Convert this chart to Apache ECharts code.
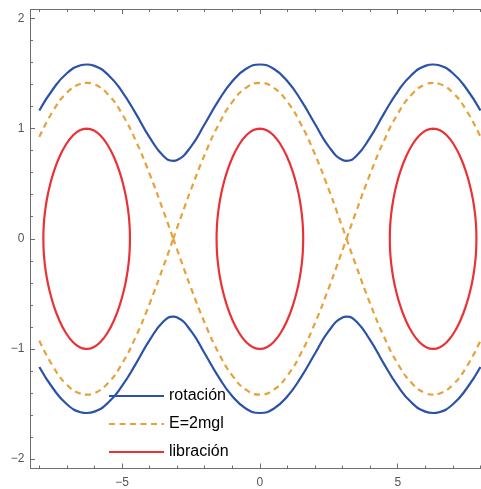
<!DOCTYPE html>
<html>
<head>
<meta charset="utf-8">
<script src="https://cdn.jsdelivr.net/npm/echarts@6/dist/echarts.min.js"></script>
<style>
html,body{margin:0;padding:0;background:#fff;}
#main{width:481px;height:489px;}
</style>
</head>
<body>
<div id="main"></div>
<script>
// rotacion curve (upper branch)
var rotX = [-8,-7.5,-7,-6.5,-6.2832,-6,-5.5,-5,-4.5,-4,-3.5,-3.1416,-3,-2.5,-2,-1.5,-1,-0.5,0,0.5,1,1.5,2,2.5,3,3.1416,3.5,4,4.5,5,5.5,6,6.2832,6.5,7,7.5,8];
var rotTop = [1.1638,1.3589,1.5013,1.5737,1.5811,1.5685,1.4862,1.3355,1.1354,0.9200,0.7507,0.7071,0.7141,0.8360,1.0411,1.2533,1.4284,1.5419,1.5811,1.5419,1.4284,1.2533,1.0411,0.8360,0.7141,0.7071,0.7507,0.9200,1.1354,1.3355,1.4862,1.5685,1.5811,1.5737,1.5013,1.3589,1.1638];

// separatrix E=2mgl, three arcs between the crossings
var sepLeftX = [-8,-7.5,-7,-6.5,-6.2832,-6,-5.5,-5,-4.5,-4,-3.5,-3.1416];
var sepLeftTop = [0.9244,1.1605,1.3243,1.4059,1.4142,1.4001,1.3072,1.1330,0.8884,0.5885,0.2521,0];
var sepMidX = [-3.1416,-3,-2.75,-2.5,-2,-1.5,-1,-0.5,0,0.5,1,1.5,2,2.5,2.75,3,3.1416];
var sepMidTop = [0,0.1000,0.2751,0.4459,0.7641,1.0348,1.2411,1.3703,1.4142,1.3703,1.2411,1.0348,0.7641,0.4459,0.2751,0.1000,0];
var sepRightX = [3.1416,3.5,4,4.5,5,5.5,6,6.2832,6.5,7,7.5,8];
var sepRightTop = [0,0.2521,0.5885,0.8884,1.1330,1.3072,1.4001,1.4142,1.4059,1.3243,1.1605,0.9244];

// libracion loops: quarter of one loop (offset from centre, height)
var libDx = [0,0.25,0.5,0.75,1.0,1.2,1.35,1.45,1.52,1.555,1.5708];
var libP = [1,0.9843,0.9368,0.8554,0.7351,0.6020,0.4680,0.3471,0.2253,0.1257,0];
var libCenters = [-6.2832,0,6.2832];

var xMajor = [-5,0,5];
var xMinor = [-8,-7,-6,-4,-3,-2,-1,1,2,3,4,6,7,8];
var yMajor = [-2,-1,0,1,2];
var yMinor = [-1.8,-1.6,-1.4,-1.2,-0.8,-0.6,-0.4,-0.2,0.2,0.4,0.6,0.8,1.2,1.4,1.6,1.8];

var blue = '#2b52a6', orange = '#e6a23a', red = '#ea3236';
var frameColor = '#6e6e6e';

function pairs(xs, ys, sign){
	var out = [];
	for(var i = 0; i < xs.length; i++){
		out.push([xs[i], sign * ys[i]]);
	}
	return out;
}

function loop(c){
	var pts = [];
	var n = libDx.length;
	for(var i = 0; i < n; i++) pts.push([c + libDx[i], libP[i]]);
	for(var i = n - 2; i >= 0; i--) pts.push([c + libDx[i], -libP[i]]);
	for(var i = 1; i < n; i++) pts.push([c - libDx[i], -libP[i]]);
	for(var i = n - 2; i >= 0; i--) pts.push([c - libDx[i], libP[i]]);
	return pts;
}

function fmt(v){
	return v < 0 ? '\u2212' + Math.abs(v) : '' + v;
}

function line(name, data, color, dashed){
	return {
		name: name,
		type: 'line',
		data: data,
		smooth: true,
		symbol: 'none',
		lineStyle: {color: color, width: 2.2, type: dashed ? [6, 4.5] : 'solid'},
		itemStyle: {color: color},
		xAxisIndex: 0,
		yAxisIndex: 0,
		z: 2
	};
}

var series = [];
series.push(line('rotación', pairs(rotX, rotTop, 1), blue));
series.push(line('rotación', pairs(rotX, rotTop, -1), blue));
var sepArcs = [[sepLeftX, sepLeftTop], [sepMidX, sepMidTop], [sepRightX, sepRightTop]];
for(var k = 0; k < sepArcs.length; k++){
	series.push(line('E=2mgl', pairs(sepArcs[k][0], sepArcs[k][1], 1), orange, true));
	series.push(line('E=2mgl', pairs(sepArcs[k][0], sepArcs[k][1], -1), orange, true));
}
for(var k = 0; k < libCenters.length; k++){
	series.push(line('libración', loop(libCenters[k]), red));
}

// the frame runs past the right edge of the picture, so the visible range stops near 8
function xAx(pos, ticks, len, labels){
	return {
		type: 'value', position: pos, min: -8.32, max: 8.02,
		axisLine: {show: true, onZero: false, lineStyle: {color: frameColor, width: 1}},
		axisTick: {show: true, inside: true, length: len, customValues: ticks, lineStyle: {color: frameColor}},
		axisLabel: labels ? {show: true, customValues: ticks, formatter: fmt, color: '#555', fontSize: 12, fontFamily: 'Liberation Sans', margin: 9} : {show: false},
		splitLine: {show: false}
	};
}
function yAx(pos, ticks, len, labels){
	return {
		type: 'value', position: pos, min: -2.08, max: 2.08,
		axisLine: {show: true, onZero: false, lineStyle: {color: frameColor, width: 1}},
		axisTick: {show: true, inside: true, length: len, customValues: ticks, lineStyle: {color: frameColor}},
		axisLabel: labels ? {show: true, customValues: ticks, formatter: fmt, color: '#555', fontSize: 12, fontFamily: 'Liberation Sans', margin: 6} : {show: false},
		splitLine: {show: false}
	};
}

var myChart = echarts.init(document.getElementById('main'));
var option = {
	animation: false,
	backgroundColor: '#fff',
	grid: {left: 30.5, right: 0, top: 9.5, bottom: 19, containLabel: false},
	xAxis: [
		xAx('bottom', xMajor, 4.5, true),
		xAx('bottom', xMinor, 2.5, false),
		xAx('top', xMajor, 4.5, false),
		xAx('top', xMinor, 2.5, false)
	],
	yAxis: [
		yAx('left', yMajor, 4.5, true),
		yAx('left', yMinor, 2.5, false)
	],
	legend: {
		data: ['rotación', 'E=2mgl', 'libración'],
		orient: 'vertical',
		left: 108,
		top: 388,
		padding: 0,
		itemWidth: 55,
		itemHeight: 16,
		itemGap: 12,
		itemStyle: {opacity: 0},
		textStyle: {fontSize: 16, color: '#000', fontFamily: 'Liberation Sans'},
		z: 5
	},
	series: series
};
myChart.setOption(option);
</script>
</body>
</html>
